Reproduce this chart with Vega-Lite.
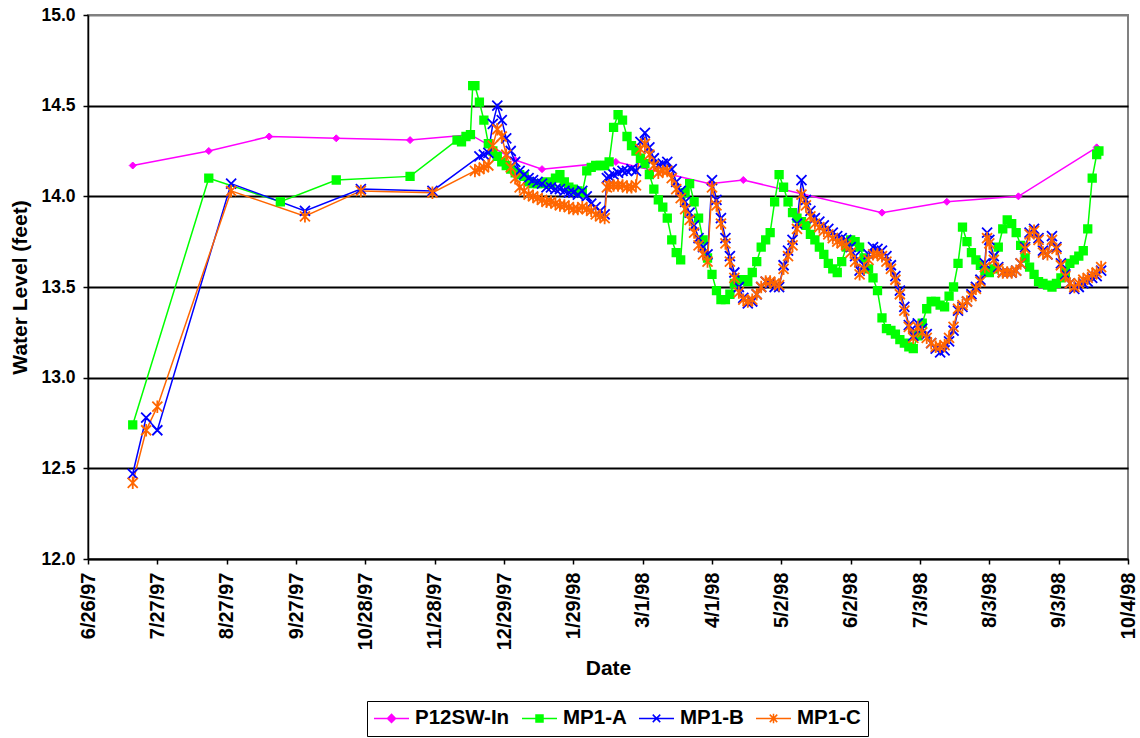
{
  "$schema": "https://vega.github.io/schema/vega-lite/v6.json",
  "width": 1040,
  "height": 544,
  "autosize": {"type": "none"},
  "padding": {"left": 88, "top": 15, "right": 12, "bottom": 179},
  "background": "white",
  "config": {
    "font": "Liberation Sans",
    "view": {"stroke": "#808080", "strokeWidth": 2},
    "axis": {"labelFont": "Liberation Sans", "titleFont": "Liberation Sans", "labelColor": "black", "titleColor": "black", "domainColor": "black", "tickColor": "black", "domainWidth": 1.5, "tickWidth": 1.5, "tickSize": 5, "labelFontWeight": "bold", "titleFontWeight": "bold", "labelFlush": false, "labelOverlap": false, "labelBound": false}
  },
  "data": {"values": [
    {"d":"1997-07-16","P12SW-In":14.17,"MP1-A":12.74,"MP1-B":12.47,"MP1-C":12.42},
    {"d":"1997-07-22","MP1-B":12.78,"MP1-C":12.71},
    {"d":"1997-07-27","MP1-B":12.71,"MP1-C":12.84},
    {"d":"1997-08-19","P12SW-In":14.25,"MP1-A":14.10},
    {"d":"1997-08-29","MP1-B":14.07,"MP1-C":14.03},
    {"d":"1997-09-15","P12SW-In":14.33},
    {"d":"1997-09-20","MP1-A":13.97},
    {"d":"1997-10-01","MP1-B":13.92,"MP1-C":13.89},
    {"d":"1997-10-15","P12SW-In":14.32,"MP1-A":14.09},
    {"d":"1997-10-26","MP1-B":14.04,"MP1-C":14.03},
    {"d":"1997-11-17","P12SW-In":14.31,"MP1-A":14.11},
    {"d":"1997-11-27","MP1-B":14.03,"MP1-C":14.02},
    {"d":"1997-12-08","MP1-A":14.31},
    {"d":"1997-12-10","MP1-A":14.30},
    {"d":"1997-12-12","MP1-A":14.33},
    {"d":"1997-12-14","P12SW-In":14.34,"MP1-A":14.34},
    {"d":"1997-12-15","MP1-A":14.61},
    {"d":"1997-12-16","MP1-A":14.61,"MP1-C":14.14},
    {"d":"1997-12-18","MP1-A":14.52,"MP1-B":14.22,"MP1-C":14.15},
    {"d":"1997-12-20","MP1-A":14.42,"MP1-B":14.23,"MP1-C":14.16},
    {"d":"1997-12-22","MP1-A":14.29,"MP1-B":14.24,"MP1-C":14.17},
    {"d":"1997-12-24","MP1-A":14.25,"MP1-B":14.40,"MP1-C":14.28},
    {"d":"1997-12-26","MP1-A":14.22,"MP1-B":14.50,"MP1-C":14.37},
    {"d":"1997-12-28","MP1-A":14.19,"MP1-B":14.42,"MP1-C":14.33},
    {"d":"1997-12-30","MP1-A":14.17,"MP1-B":14.32,"MP1-C":14.23},
    {"d":"1998-01-01","MP1-A":14.15,"MP1-B":14.25,"MP1-C":14.16},
    {"d":"1998-01-03","P12SW-In":14.20,"MP1-A":14.13,"MP1-B":14.19,"MP1-C":14.10},
    {"d":"1998-01-05","MP1-A":14.12,"MP1-B":14.14,"MP1-C":14.05},
    {"d":"1998-01-07","MP1-A":14.11,"MP1-B":14.12,"MP1-C":14.03},
    {"d":"1998-01-09","MP1-A":14.08,"MP1-B":14.10,"MP1-C":14.01},
    {"d":"1998-01-11","MP1-A":14.07,"MP1-B":14.09,"MP1-C":14.00},
    {"d":"1998-01-13","MP1-A":14.07,"MP1-B":14.08,"MP1-C":13.99},
    {"d":"1998-01-15","P12SW-In":14.15,"MP1-A":14.07,"MP1-B":14.07,"MP1-C":13.98},
    {"d":"1998-01-17","MP1-A":14.08,"MP1-B":14.05,"MP1-C":13.97},
    {"d":"1998-01-19","MP1-A":14.07,"MP1-B":14.05,"MP1-C":13.97},
    {"d":"1998-01-21","MP1-A":14.10,"MP1-B":14.04,"MP1-C":13.96},
    {"d":"1998-01-23","MP1-A":14.12,"MP1-B":14.04,"MP1-C":13.95},
    {"d":"1998-01-25","MP1-A":14.08,"MP1-B":14.03,"MP1-C":13.95},
    {"d":"1998-01-27","MP1-A":14.05,"MP1-B":14.02,"MP1-C":13.94},
    {"d":"1998-01-29","MP1-A":14.04,"MP1-B":14.02,"MP1-C":13.93},
    {"d":"1998-01-31","MP1-A":14.03,"MP1-B":14.01,"MP1-C":13.93},
    {"d":"1998-02-02","MP1-A":14.02,"MP1-B":14.03,"MP1-C":13.94},
    {"d":"1998-02-04","MP1-A":14.14,"MP1-B":14.00,"MP1-C":13.93},
    {"d":"1998-02-06","MP1-A":14.16,"MP1-B":13.96,"MP1-C":13.92},
    {"d":"1998-02-08","MP1-A":14.17,"MP1-B":13.94,"MP1-C":13.90},
    {"d":"1998-02-10","MP1-A":14.17,"MP1-B":13.92,"MP1-C":13.89},
    {"d":"1998-02-12","MP1-A":14.17,"MP1-B":13.90,"MP1-C":13.88},
    {"d":"1998-02-13","MP1-B":14.10,"MP1-C":14.05},
    {"d":"1998-02-14","MP1-A":14.19,"MP1-B":14.11,"MP1-C":14.06},
    {"d":"1998-02-16","MP1-A":14.38,"MP1-B":14.12,"MP1-C":14.06},
    {"d":"1998-02-17","P12SW-In":14.19},
    {"d":"1998-02-18","MP1-A":14.45,"MP1-B":14.13,"MP1-C":14.06},
    {"d":"1998-02-20","MP1-A":14.42,"MP1-B":14.14,"MP1-C":14.06},
    {"d":"1998-02-22","MP1-A":14.33,"MP1-B":14.14,"MP1-C":14.05},
    {"d":"1998-02-24","MP1-A":14.28,"MP1-B":14.15,"MP1-C":14.05},
    {"d":"1998-02-26","MP1-A":14.25,"MP1-B":14.14,"MP1-C":14.06},
    {"d":"1998-02-28","MP1-A":14.21,"MP1-B":14.30,"MP1-C":14.26},
    {"d":"1998-03-02","MP1-A":14.18,"MP1-B":14.35,"MP1-C":14.29},
    {"d":"1998-03-04","MP1-A":14.12,"MP1-B":14.27,"MP1-C":14.23},
    {"d":"1998-03-06","MP1-A":14.04,"MP1-B":14.21,"MP1-C":14.17},
    {"d":"1998-03-08","MP1-A":13.98,"MP1-B":14.17,"MP1-C":14.13},
    {"d":"1998-03-10","MP1-A":13.94,"MP1-B":14.18,"MP1-C":14.14},
    {"d":"1998-03-12","MP1-A":13.88,"MP1-B":14.19,"MP1-C":14.14},
    {"d":"1998-03-14","MP1-A":13.76,"MP1-B":14.15,"MP1-C":14.10},
    {"d":"1998-03-16","MP1-A":13.69,"MP1-B":14.08,"MP1-C":14.04},
    {"d":"1998-03-18","MP1-A":13.65,"MP1-B":14.03,"MP1-C":13.99},
    {"d":"1998-03-20","MP1-A":14.02,"MP1-B":13.97,"MP1-C":13.93},
    {"d":"1998-03-22","MP1-A":14.07,"MP1-B":13.91,"MP1-C":13.87},
    {"d":"1998-03-24","MP1-A":13.97,"MP1-B":13.84,"MP1-C":13.80},
    {"d":"1998-03-26","MP1-A":13.88,"MP1-B":13.77,"MP1-C":13.73},
    {"d":"1998-03-28","MP1-A":13.76,"MP1-B":13.72,"MP1-C":13.68},
    {"d":"1998-03-30","MP1-A":13.66,"MP1-B":13.68,"MP1-C":13.64},
    {"d":"1998-03-31","P12SW-In":14.07},
    {"d":"1998-04-01","MP1-A":13.57,"MP1-B":14.09,"MP1-C":14.05},
    {"d":"1998-04-03","MP1-A":13.48,"MP1-B":13.98,"MP1-C":13.95},
    {"d":"1998-04-05","MP1-A":13.43,"MP1-B":13.88,"MP1-C":13.85},
    {"d":"1998-04-07","MP1-A":13.43,"MP1-B":13.77,"MP1-C":13.74},
    {"d":"1998-04-09","MP1-A":13.46,"MP1-B":13.67,"MP1-C":13.64},
    {"d":"1998-04-11","MP1-A":13.52,"MP1-B":13.58,"MP1-C":13.55},
    {"d":"1998-04-13","MP1-A":13.54,"MP1-B":13.50,"MP1-C":13.47},
    {"d":"1998-04-15","P12SW-In":14.09,"MP1-A":13.54,"MP1-B":13.44,"MP1-C":13.43},
    {"d":"1998-04-17","MP1-A":13.53,"MP1-B":13.41,"MP1-C":13.42},
    {"d":"1998-04-19","MP1-A":13.58,"MP1-B":13.42,"MP1-C":13.43},
    {"d":"1998-04-21","MP1-A":13.64,"MP1-B":13.46,"MP1-C":13.46},
    {"d":"1998-04-23","MP1-A":13.72,"MP1-B":13.50,"MP1-C":13.50},
    {"d":"1998-04-25","MP1-A":13.76,"MP1-B":13.53,"MP1-C":13.53},
    {"d":"1998-04-27","MP1-A":13.80,"MP1-B":13.52,"MP1-C":13.53},
    {"d":"1998-04-29","MP1-A":13.97,"MP1-B":13.50,"MP1-C":13.52},
    {"d":"1998-05-01","MP1-A":14.12,"MP1-B":13.50,"MP1-C":13.51},
    {"d":"1998-05-03","MP1-A":14.05,"MP1-B":13.62,"MP1-C":13.60},
    {"d":"1998-05-05","MP1-A":13.97,"MP1-B":13.70,"MP1-C":13.67},
    {"d":"1998-05-07","MP1-A":13.91,"MP1-B":13.76,"MP1-C":13.73},
    {"d":"1998-05-09","MP1-A":13.88,"MP1-B":13.85,"MP1-C":13.82},
    {"d":"1998-05-11","MP1-A":13.86,"MP1-B":14.09,"MP1-C":14.01},
    {"d":"1998-05-13","MP1-A":13.84,"MP1-B":13.98,"MP1-C":13.95},
    {"d":"1998-05-15","MP1-A":13.79,"MP1-B":13.92,"MP1-C":13.89},
    {"d":"1998-05-17","MP1-A":13.76,"MP1-B":13.88,"MP1-C":13.85},
    {"d":"1998-05-19","MP1-A":13.72,"MP1-B":13.86,"MP1-C":13.83},
    {"d":"1998-05-21","MP1-A":13.68,"MP1-B":13.84,"MP1-C":13.81},
    {"d":"1998-05-23","MP1-A":13.63,"MP1-B":13.82,"MP1-C":13.79},
    {"d":"1998-05-25","MP1-A":13.60,"MP1-B":13.80,"MP1-C":13.77},
    {"d":"1998-05-27","MP1-A":13.58,"MP1-B":13.78,"MP1-C":13.75},
    {"d":"1998-05-29","MP1-A":13.64,"MP1-B":13.77,"MP1-C":13.74},
    {"d":"1998-05-31","MP1-A":13.72,"MP1-B":13.76,"MP1-C":13.73},
    {"d":"1998-06-02","MP1-A":13.76,"MP1-B":13.72,"MP1-C":13.69},
    {"d":"1998-06-04","MP1-A":13.75,"MP1-B":13.67,"MP1-C":13.64},
    {"d":"1998-06-06","MP1-A":13.72,"MP1-B":13.59,"MP1-C":13.57},
    {"d":"1998-06-08","MP1-A":13.66,"MP1-B":13.62,"MP1-C":13.60},
    {"d":"1998-06-10","MP1-A":13.60,"MP1-B":13.68,"MP1-C":13.65},
    {"d":"1998-06-12","MP1-A":13.55,"MP1-B":13.72,"MP1-C":13.68},
    {"d":"1998-06-14","MP1-A":13.48,"MP1-B":13.71,"MP1-C":13.68},
    {"d":"1998-06-16","P12SW-In":13.91,"MP1-A":13.33,"MP1-B":13.70,"MP1-C":13.67},
    {"d":"1998-06-18","MP1-A":13.27,"MP1-B":13.67,"MP1-C":13.64},
    {"d":"1998-06-20","MP1-A":13.26,"MP1-B":13.62,"MP1-C":13.60},
    {"d":"1998-06-22","MP1-A":13.24,"MP1-B":13.56,"MP1-C":13.54},
    {"d":"1998-06-24","MP1-A":13.21,"MP1-B":13.48,"MP1-C":13.46},
    {"d":"1998-06-26","MP1-A":13.19,"MP1-B":13.39,"MP1-C":13.37},
    {"d":"1998-06-28","MP1-A":13.17,"MP1-B":13.29,"MP1-C":13.28},
    {"d":"1998-06-30","MP1-A":13.16,"MP1-B":13.23,"MP1-C":13.22},
    {"d":"1998-07-02","MP1-A":13.23,"MP1-B":13.30,"MP1-C":13.28},
    {"d":"1998-07-04","MP1-A":13.30,"MP1-B":13.27,"MP1-C":13.25},
    {"d":"1998-07-06","MP1-A":13.38,"MP1-B":13.24,"MP1-C":13.22},
    {"d":"1998-07-08","MP1-A":13.42,"MP1-B":13.19,"MP1-C":13.19},
    {"d":"1998-07-10","MP1-A":13.42,"MP1-B":13.16,"MP1-C":13.17},
    {"d":"1998-07-12","MP1-A":13.40,"MP1-B":13.14,"MP1-C":13.17},
    {"d":"1998-07-14","MP1-A":13.39,"MP1-B":13.15,"MP1-C":13.18},
    {"d":"1998-07-15","P12SW-In":13.97},
    {"d":"1998-07-16","MP1-A":13.45,"MP1-B":13.20,"MP1-C":13.22},
    {"d":"1998-07-18","MP1-A":13.50,"MP1-B":13.26,"MP1-C":13.28},
    {"d":"1998-07-20","MP1-A":13.63,"MP1-B":13.37,"MP1-C":13.38},
    {"d":"1998-07-22","MP1-A":13.83,"MP1-B":13.39,"MP1-C":13.40},
    {"d":"1998-07-24","MP1-A":13.75,"MP1-B":13.42,"MP1-C":13.42},
    {"d":"1998-07-26","MP1-A":13.69,"MP1-B":13.46,"MP1-C":13.45},
    {"d":"1998-07-28","MP1-A":13.65,"MP1-B":13.50,"MP1-C":13.49},
    {"d":"1998-07-30","MP1-A":13.62,"MP1-B":13.54,"MP1-C":13.53},
    {"d":"1998-08-01","MP1-A":13.59,"MP1-B":13.63,"MP1-C":13.61},
    {"d":"1998-08-02","MP1-B":13.80,"MP1-C":13.77},
    {"d":"1998-08-03","MP1-A":13.58,"MP1-B":13.76,"MP1-C":13.74},
    {"d":"1998-08-05","MP1-A":13.60,"MP1-B":13.67,"MP1-C":13.65},
    {"d":"1998-08-07","MP1-A":13.72,"MP1-B":13.61,"MP1-C":13.60},
    {"d":"1998-08-09","MP1-A":13.82,"MP1-B":13.58,"MP1-C":13.58},
    {"d":"1998-08-11","MP1-A":13.87,"MP1-B":13.58,"MP1-C":13.58},
    {"d":"1998-08-13","MP1-A":13.85,"MP1-B":13.58,"MP1-C":13.58},
    {"d":"1998-08-15","MP1-A":13.80,"MP1-B":13.59,"MP1-C":13.59},
    {"d":"1998-08-16","P12SW-In":14.00},
    {"d":"1998-08-17","MP1-A":13.73,"MP1-B":13.63,"MP1-C":13.63},
    {"d":"1998-08-19","MP1-A":13.66,"MP1-B":13.72,"MP1-C":13.71},
    {"d":"1998-08-21","MP1-A":13.61,"MP1-B":13.80,"MP1-C":13.79},
    {"d":"1998-08-23","MP1-A":13.57,"MP1-B":13.82,"MP1-C":13.81},
    {"d":"1998-08-25","MP1-A":13.53,"MP1-B":13.77,"MP1-C":13.76},
    {"d":"1998-08-27","MP1-A":13.52,"MP1-B":13.70,"MP1-C":13.69},
    {"d":"1998-08-29","MP1-A":13.51,"MP1-B":13.68,"MP1-C":13.68},
    {"d":"1998-08-31","MP1-A":13.50,"MP1-B":13.78,"MP1-C":13.76},
    {"d":"1998-09-02","MP1-A":13.52,"MP1-B":13.72,"MP1-C":13.71},
    {"d":"1998-09-04","MP1-A":13.55,"MP1-B":13.63,"MP1-C":13.62},
    {"d":"1998-09-06","MP1-A":13.58,"MP1-B":13.57,"MP1-C":13.56},
    {"d":"1998-09-08","MP1-A":13.63,"MP1-B":13.52,"MP1-C":13.52},
    {"d":"1998-09-10","MP1-A":13.65,"MP1-B":13.49,"MP1-C":13.50},
    {"d":"1998-09-12","MP1-A":13.67,"MP1-B":13.50,"MP1-C":13.52},
    {"d":"1998-09-14","MP1-A":13.70,"MP1-B":13.52,"MP1-C":13.54},
    {"d":"1998-09-16","MP1-A":13.82,"MP1-B":13.53,"MP1-C":13.55},
    {"d":"1998-09-18","MP1-A":14.10,"MP1-B":13.55,"MP1-C":13.57},
    {"d":"1998-09-20","P12SW-In":14.27,"MP1-A":14.23,"MP1-B":13.56,"MP1-C":13.58},
    {"d":"1998-09-21","MP1-A":14.25},
    {"d":"1998-09-22","MP1-B":13.59,"MP1-C":13.61}
  ]},
  "transform": [
    {"fold": ["P12SW-In", "MP1-A", "MP1-B", "MP1-C"], "as": ["s", "v"]},
    {"filter": "datum.v != null"}
  ],
  "encoding": {
    "x": {
      "field": "d", "type": "temporal",
      "scale": {"type": "utc", "nice": false, "domain": [{"year": 1997, "month": 6, "date": 26, "utc": true}, {"year": 1998, "month": 10, "date": 4, "utc": true}]},
      "axis": {
        "values": [
          {"year": 1997, "month": 6, "date": 26, "utc": true},
          {"year": 1997, "month": 7, "date": 27, "utc": true},
          {"year": 1997, "month": 8, "date": 27, "utc": true},
          {"year": 1997, "month": 9, "date": 27, "utc": true},
          {"year": 1997, "month": 10, "date": 28, "utc": true},
          {"year": 1997, "month": 11, "date": 28, "utc": true},
          {"year": 1997, "month": 12, "date": 29, "utc": true},
          {"year": 1998, "month": 1, "date": 29, "utc": true},
          {"year": 1998, "month": 3, "date": 1, "utc": true},
          {"year": 1998, "month": 4, "date": 1, "utc": true},
          {"year": 1998, "month": 5, "date": 2, "utc": true},
          {"year": 1998, "month": 6, "date": 2, "utc": true},
          {"year": 1998, "month": 7, "date": 3, "utc": true},
          {"year": 1998, "month": 8, "date": 3, "utc": true},
          {"year": 1998, "month": 9, "date": 3, "utc": true},
          {"year": 1998, "month": 10, "date": 4, "utc": true}
        ],
        "format": "%-m/%-d/%y",
        "labelAngle": 270,
        "labelFontSize": 20,
        "labelPadding": 8,
        "grid": false,
        "title": "Date",
        "titleFontSize": 21,
        "titlePadding": 8
      }
    },
    "y": {
      "field": "v", "type": "quantitative",
      "scale": {"domain": [12, 15], "nice": false, "zero": false},
      "axis": {
        "values": [12, 12.5, 13, 13.5, 14, 14.5, 15],
        "format": ".1f",
        "labelFontSize": 17.5,
        "labelPadding": 8,
        "grid": true,
        "gridColor": {"condition": {"test": "datum.value === 15", "value": "#808080"}, "value": "black"},
        "gridWidth": 1.8,
        "gridOpacity": 1,
        "title": "Water Level (feet)",
        "titleFontSize": 21,
        "titlePadding": 10
      }
    }
  },
  "layer": [
    {
      "transform": [{"filter": "datum.s === 'P12SW-In'"}],
      "mark": {"type": "line", "strokeWidth": 1.5},
      "encoding": {
        "stroke": {"field": "s", "type": "nominal", "scale": {"domain": ["P12SW-In", "MP1-A", "MP1-B", "MP1-C"], "range": ["#FF00FF", "#00FF00", "#0000FF", "#FF6600"]}, "legend": null}
      }
    },
    {
      "transform": [{"filter": "datum.s === 'P12SW-In'"}],
      "mark": {"type": "point", "shape": "diamond", "size": 49, "strokeWidth": 1, "opacity": 1},
      "encoding": {
        "fill": {"field": "s", "type": "nominal", "scale": {"domain": ["P12SW-In", "MP1-A", "MP1-B", "MP1-C"], "range": ["#FF00FF", "#00FF00", "#0000FF", "#FF6600"]}, "legend": null},
        "stroke": {"field": "s", "type": "nominal", "scale": {"domain": ["P12SW-In", "MP1-A", "MP1-B", "MP1-C"], "range": ["#FF00FF", "#00FF00", "#0000FF", "#FF6600"]}, "legend": null}
      }
    },
    {
      "transform": [{"filter": "datum.s !== 'P12SW-In'"}],
      "mark": {"type": "line", "strokeWidth": 1.5},
      "encoding": {
        "stroke": {"field": "s", "type": "nominal", "scale": {"domain": ["P12SW-In", "MP1-A", "MP1-B", "MP1-C"], "range": ["#FF00FF", "#00FF00", "#0000FF", "#FF6600"]}, "legend": null}
      }
    },
    {
      "transform": [{"filter": "datum.s !== 'P12SW-In'"}],
      "mark": {"type": "point", "size": 100, "strokeWidth": 1.8, "opacity": 1},
      "encoding": {
        "shape": {"field": "s", "type": "nominal", "scale": {"domain": ["MP1-A", "MP1-B", "MP1-C"], "range": ["M-0.75,-0.75H0.75V0.75H-0.75Z", "M-1,-1L1,1M-1,1L1,-1", "M-1,-1L1,1M-1,1L1,-1M0,-1.25V1.25"]}, "legend": null},
        "fill": {"field": "s", "type": "nominal", "scale": {"domain": ["P12SW-In", "MP1-A", "MP1-B", "MP1-C"], "range": ["#FF00FF", "#00FF00", "#0000FF", "#FF6600"]}, "legend": null},
        "stroke": {"field": "s", "type": "nominal", "scale": {"domain": ["P12SW-In", "MP1-A", "MP1-B", "MP1-C"], "range": ["#FF00FF", "#00FF00", "#0000FF", "#FF6600"]}, "legend": null},
        "order": {"field": "s", "type": "ordinal"}
      }
    },
    {
      "transform": [{"filter": "false"}],
      "mark": {"type": "point", "size": 100, "strokeWidth": 1.5, "opacity": 1},
      "encoding": {
        "shape": {"field": "s", "type": "nominal",
          "scale": {"domain": ["P12SW-In", "MP1-A", "MP1-B", "MP1-C"], "range": [
            "M-2.05,0H4.95M1.45,-0.8L2.25,0L1.45,0.8L0.65,0Z",
            "M-2.05,0H4.95M0.75,-0.7H2.15V0.7H0.75Z",
            "M-2.05,0H4.95M0.7,-0.75L2.2,0.75M0.7,0.75L2.2,-0.75",
            "M-2.05,0H4.95M0.7,-0.75L2.2,0.75M0.7,0.75L2.2,-0.75M1.45,-0.95V0.95"
          ]},
          "legend": {"orient": "none", "legendX": 279, "legendY": 686, "direction": "horizontal", "columns": 4, "title": null, "labelFont": "Liberation Sans", "labelFontSize": 20.5, "labelFontWeight": "bold", "labelColor": "black", "symbolSize": 100, "symbolStrokeWidth": 1.5, "labelOffset": 20.5, "columnPadding": 9, "padding": 7, "strokeColor": "black", "fillColor": "white"}
        },
        "fill": {"field": "s", "type": "nominal", "scale": {"domain": ["P12SW-In", "MP1-A", "MP1-B", "MP1-C"], "range": ["#FF00FF", "#00FF00", "#0000FF", "#FF6600"]},
          "legend": {"orient": "none", "legendX": 279, "legendY": 686, "direction": "horizontal", "columns": 4, "title": null, "labelFont": "Liberation Sans", "labelFontSize": 20.5, "labelFontWeight": "bold", "labelColor": "black", "symbolSize": 100, "symbolStrokeWidth": 1.5, "labelOffset": 20.5, "columnPadding": 9, "padding": 7, "strokeColor": "black", "fillColor": "white"}},
        "stroke": {"field": "s", "type": "nominal", "scale": {"domain": ["P12SW-In", "MP1-A", "MP1-B", "MP1-C"], "range": ["#FF00FF", "#00FF00", "#0000FF", "#FF6600"]},
          "legend": {"orient": "none", "legendX": 279, "legendY": 686, "direction": "horizontal", "columns": 4, "title": null, "labelFont": "Liberation Sans", "labelFontSize": 20.5, "labelFontWeight": "bold", "labelColor": "black", "symbolSize": 100, "symbolStrokeWidth": 1.5, "labelOffset": 20.5, "columnPadding": 9, "padding": 7, "strokeColor": "black", "fillColor": "white"}}
      }
    }
  ],
  "resolve": {"scale": {"shape": "independent"}, "legend": {"shape": "independent", "fill": "independent", "stroke": "independent"}}
}
